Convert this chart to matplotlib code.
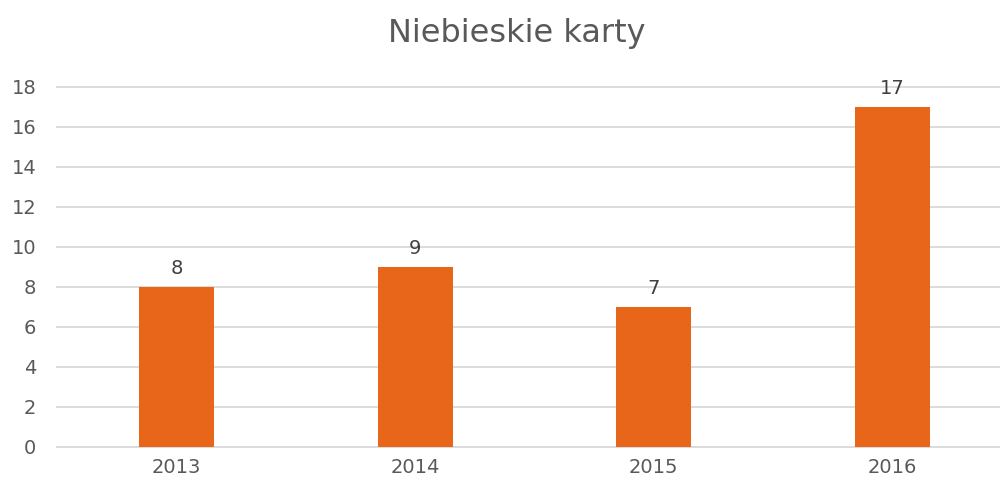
import matplotlib.pyplot as plt

years = ["2013", "2014", "2015", "2016"]
values = [8, 9, 7, 17]
yticks = [0, 2, 4, 6, 8, 10, 12, 14, 16, 18]

bar_color = "#E8661A"
text_color = "#595959"
grid_color = "#D9D9D9"

fig = plt.figure(figsize=(10, 4.84), dpi=100)
ax = fig.add_axes([0.057, 37 / 484, 0.955, 360 / 484])

x = list(range(len(years)))
bars = ax.bar(x, values, width=0.315, color=bar_color, zorder=3)

# value above each bar
for bar, v in zip(bars, values):
    ax.text(bar.get_x() + bar.get_width() / 2, v + 0.45, str(v),
            ha="center", va="bottom", fontsize=14, color="#404040")

ax.set_xlim(-0.5, len(years) - 0.5)
ax.set_ylim(0, 18)
ax.set_xticks(x)
ax.set_xticklabels(years)
ax.set_yticks(yticks)
ax.tick_params(axis="both", length=0, labelsize=14, labelcolor=text_color)
ax.tick_params(axis="y", pad=15)
ax.tick_params(axis="x", pad=8)
ax.grid(axis="y", color=grid_color, linewidth=1.3, zorder=0)
for line in ax.get_ygridlines():
    line.set_clip_on(False)
for s in ax.spines.values():
    s.set_visible(False)

fig.text(0.517, 0.93, "Niebieskie karty", ha="center", va="center",
         fontsize=23, color=text_color)

fig.savefig("out.png", dpi=100)
